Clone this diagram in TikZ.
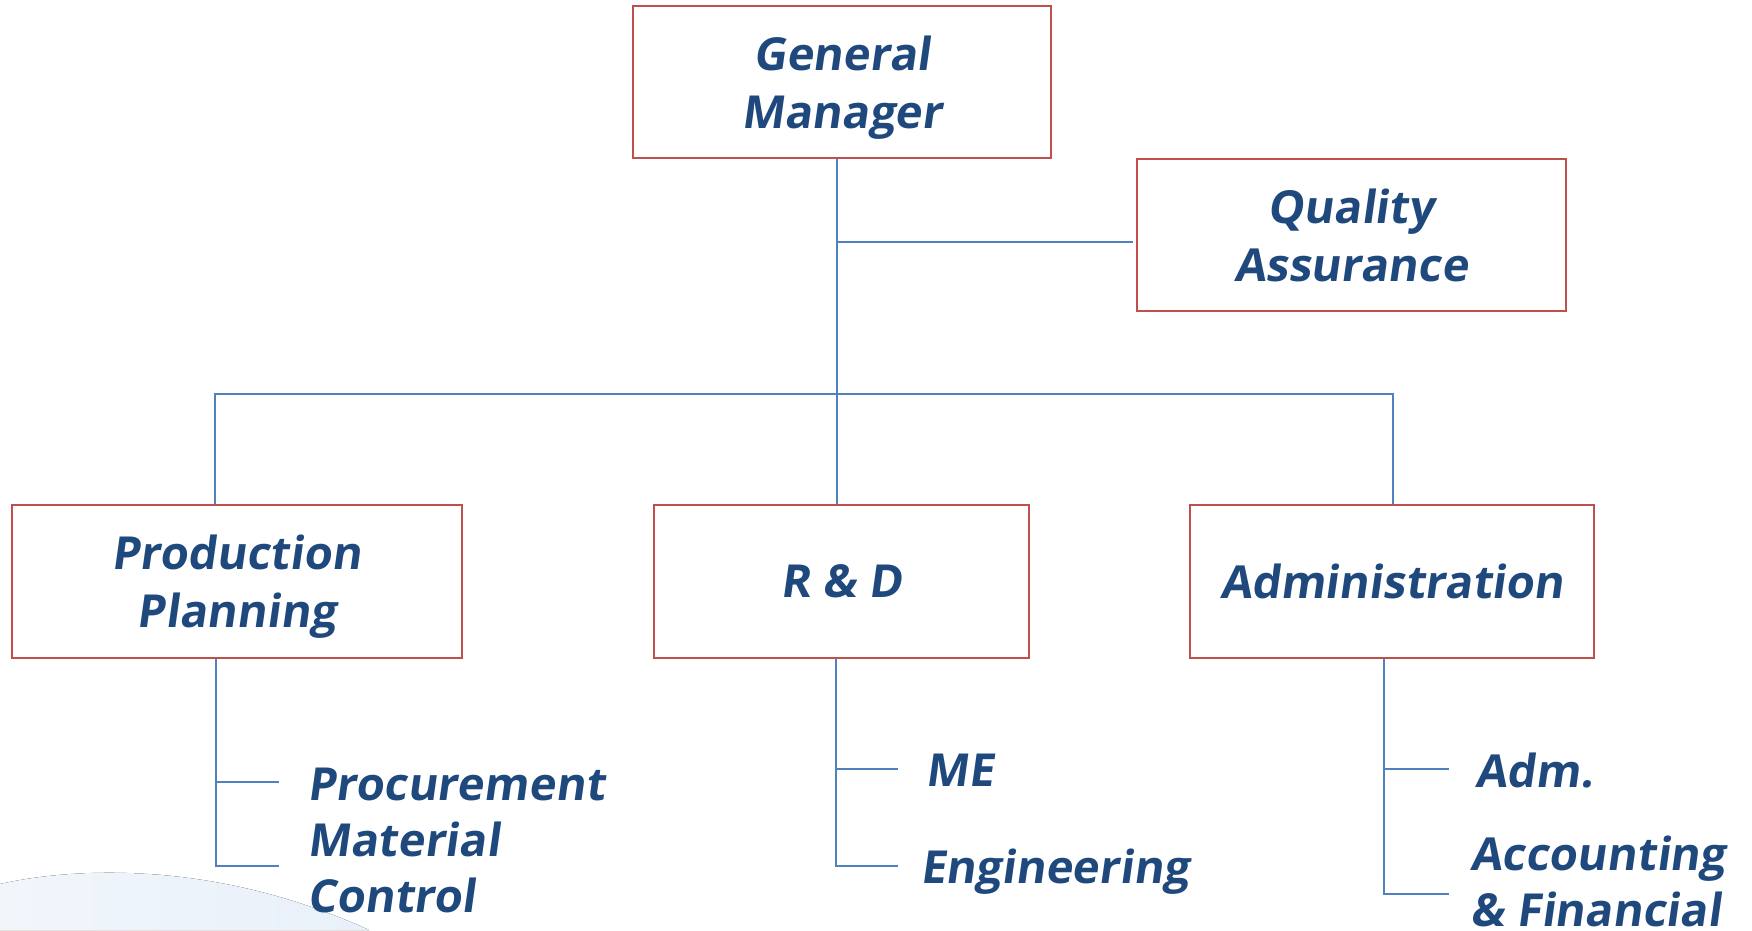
\documentclass[tikz,border=0pt]{standalone}
\usepackage{fontspec}
\setmainfont{Open Sans}[UprightFont={* Bold},BoldFont={* Bold},UprightFeatures={FakeSlant=0.14},BoldFeatures={FakeSlant=0.14}]
\definecolor{boxred}{RGB}{192,80,77}
\definecolor{linkblue}{RGB}{79,129,189}
\definecolor{textblue}{RGB}{31,73,125}
\definecolor{bgblue}{RGB}{232,240,249}
\tikzset{
  box/.style={draw=boxred, line width=2pt, align=center, text=textblue,
    font=\fontsize{45.5}{58}\selectfont, inner sep=0pt, text depth=0pt},
  subitem/.style={anchor=west, align=left, text=textblue,
    font=\fontsize{45.5}{56}\selectfont, inner sep=0pt},
  link/.style={draw=linkblue, line width=2pt}
}
\begin{document}
\begin{tikzpicture}[x=1pt,y=-1pt]
\useasboundingbox (0,0) rectangle (1752,930);
% faint background swoosh
\fill[left color=bgblue!60!white, right color=bgblue] (0,884) .. controls (80,866) and (220,862) .. (369,930) -- (0,930) -- cycle;
% boxes
\node[box, minimum width=418pt, minimum height=152pt] (gm) at (842,82) {General\\Manager};
\node[box, minimum width=429pt, minimum height=152pt] (qa) at (1351,235) {Quality\\Assurance};
\node[box, minimum width=450pt, minimum height=153pt] (pp) at (236.5,581.5) {Production\\Planning};
\node[box, minimum width=375pt, minimum height=153pt] (rd) at (841.5,581.5) {R \& D};
\node[box, minimum width=404pt, minimum height=153pt] (ad) at (1392,581.5) {Administration};
% sub items
\node[subitem] (proc) at (307,840) {Procurement\\Material\\Control};
\node[subitem] (me) at (925,770) {ME};
\node[subitem] (eng) at (920,872) {Engineering};
\node[subitem] (adm) at (1475,770) {Adm.};
\node[subitem] (acc) at (1470,881) {Accounting\\\& Financial};
% main connectors
\coordinate (trunk) at (837,394);
\coordinate (qaj) at (837,242);
\coordinate (busL) at (215,394);
\coordinate (busR) at (1393,394);
\draw[link] (gm.south -| trunk) -- (rd.north -| trunk);
\draw[link] (qaj) -- ([xshift=-3pt]qaj -| qa.west);
\draw[link] (busL |- pp.north) -- (busL) -- (busR) -- (busR |- ad.north);
% sub connectors: production planning
\coordinate (ppx) at (216,866);
\draw[link] (pp.south -| ppx) -- (ppx) -- (279,866);
\coordinate (pp1) at (216,782);
\draw[link] (pp1) -- (279,782);
% R&D
\coordinate (rdx) at (836,866);
\draw[link] (rd.south -| rdx) -- (rdx) -- (898,866);
\coordinate (rd1) at (836,769);
\draw[link] (rd1) -- (898,769);
% Administration
\coordinate (adx) at (1384,894);
\draw[link] (ad.south -| adx) -- (adx) -- (1449,894);
\coordinate (ad1) at (1384,769);
\draw[link] (ad1) -- (1449,769);
\end{tikzpicture}
\end{document}
